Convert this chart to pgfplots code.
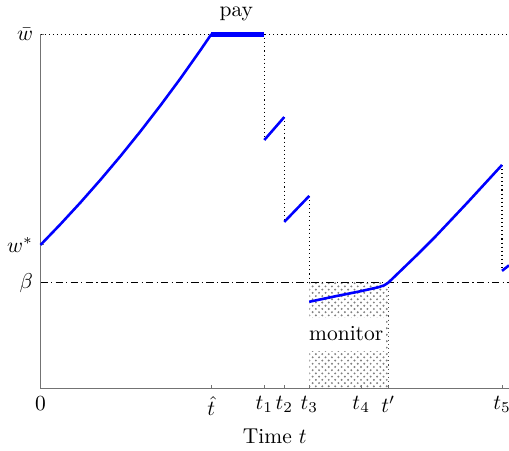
\documentclass[border=0pt]{standalone}
\usepackage{pgfplots}
\pgfplotsset{compat=1.18}
\usetikzlibrary{patterns}
\begin{document}
\begin{tikzpicture}
\begin{axis}[
 scale only axis, width=218pt, height=165pt,
 xmin=0, xmax=469, ymin=0, ymax=355,
 axis x line*=bottom, axis y line*=left,
 axis line style={black!55, -},
 clip=false,
 xtick={0,171,224,244,269,321,348,462},
 xticklabels={$0$,$\hat{t}$,$t_1$,$t_2$,$t_3$,$t_4$,$t'$,$t_5$},
 ytick={106,144,355},
 yticklabels={$\beta$,$w^*$,$\bar{w}$},
 tick align=inside,
 major tick length=1.8pt,
 tick style={black!55, thin},
 xlabel={Time $t$},
 every axis x label/.style={at={(ticklabel cs:0.5)}, anchor=north, yshift=0.5pt},
]
% monitor area
\addplot[draw=none, pattern=crosshatch dots, pattern color=black!50] coordinates {(269,0) (269,106) (348,106) (348,0)} -- cycle;
\addplot[draw=none, fill=white] coordinates {(269,38) (269,71) (346,71) (346,38)} -- cycle;
% reference lines
\addplot[black, dash pattern=on 0.5pt off 1.4pt, line width=0.5pt] coordinates {(0,355) (469,355)};
\addplot[black, dash pattern=on 3.5pt off 1.5pt on 0.5pt off 1.5pt, line width=0.5pt] coordinates {(0,106) (469,106)};
\addplot[black, dash pattern=on 0.5pt off 1.4pt, line width=0.5pt] coordinates {(224,355) (224,249)};
\addplot[black, dash pattern=on 0.5pt off 1.4pt, line width=0.5pt] coordinates {(244,272) (244,167)};
\addplot[black, dash pattern=on 0.5pt off 1.4pt, line width=0.5pt] coordinates {(269,193) (269,106)};
\addplot[black!70, dash pattern=on 0.5pt off 1.4pt, line width=0.5pt] coordinates {(348,106) (348,0)};
\addplot[black, dash pattern=on 0.5pt off 1.4pt, line width=0.5pt] coordinates {(462,224) (462,118)};
% path
\addplot[blue, line width=1.2pt] coordinates {(0,144) (20,164.8) (40,186.5) (60,209.2) (80,232.9) (100,257.7) (120,283.6) (140,310.6) (160,338.9) (171,355)};
\addplot[blue, line width=2.4pt] coordinates {(171,355) (224,355)};
\addplot[blue, line width=1.2pt] coordinates {(224,249) (244,272)};
\addplot[blue, line width=1.2pt] coordinates {(244,167) (269,193)};
\addplot[blue, line width=1.2pt] coordinates {(269,87) (295,92.5) (320,97.5) (338,101.5) (344,103.5) (348,106)};
\addplot[blue, line width=1.2pt] coordinates {(348,106) (362,119.5) (377,134) (395,152) (412,170) (428,187) (445,205.5) (462,224)};
\addplot[blue, line width=1.2pt] coordinates {(462,118) (469,123.5)};
% labels
\node at (axis cs:196,375) {pay};
\node at (axis cs:306,55) {monitor};
\coordinate (AR) at (axis cs:469,0);
\end{axis}
\pgfresetboundingbox
\path[use as bounding box] (current axis.outer south west) rectangle (AR |- current axis.outer north east);
\end{tikzpicture}
\end{document}
